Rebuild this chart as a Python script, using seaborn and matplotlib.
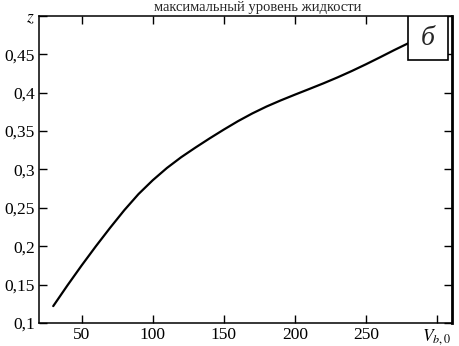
import numpy as np
import pandas as pd
import seaborn as sns
import matplotlib.pyplot as plt
from matplotlib.patches import Rectangle

# curve
v_b0 = [30, 40, 50, 60, 70, 80, 90, 100, 110, 120, 130, 140, 150, 160, 170,
        180, 190, 200, 210, 220, 230, 240, 250, 260, 270, 280, 290, 300]
z_val = [0.122, 0.149, 0.175, 0.200, 0.224, 0.247, 0.268, 0.286, 0.302, 0.316,
         0.3285, 0.3405, 0.352, 0.363, 0.373, 0.382, 0.390, 0.3975, 0.4048, 0.4122,
         0.420, 0.4283, 0.4371, 0.4463, 0.4557, 0.4647, 0.4735, 0.4821]

x_ticks = [50, 100, 150, 200, 250, 300]
x_labels = ['50', '100', '150', '200', '250', '$V_{b,0}$']
y_ticks = [0.1, 0.15, 0.2, 0.25, 0.3, 0.35, 0.4, 0.45, 0.5]
y_labels = ['0,1', '0,15', '0,2', '0,25', '0,3', '0,35', '0,4', '0,45', '$z$']

title = 'максимальный уровень жидкости'
panel = 'б'

df = pd.DataFrame({'v': v_b0, 'z': z_val})

sns.set_style('ticks')
plt.rcParams['font.family'] = ['Liberation Serif', 'DejaVu Serif']
plt.rcParams['mathtext.fontset'] = 'stix'

fig = plt.figure(figsize=(4.6, 3.46), dpi=100)
ax = fig.add_axes([0.0848, 0.0665, 0.8978, 0.8873])

sns.lineplot(df, x='v', y='z', ax=ax, color='black', linewidth=1.6)

ax.set_xlim(20, 310.5)
ax.set_ylim(0.1, 0.5)
ax.set_xticks(x_ticks)
ax.set_xticklabels(x_labels)
ax.set_yticks(y_ticks)
ax.set_yticklabels(y_labels)
ax.set_xlabel('')
ax.set_ylabel('')

ax.tick_params(direction='in', length=6, width=1, top=True, right=True,
               labelsize=12.5, colors='black', pad=3)
for s in ax.spines.values():
    s.set_visible(True)
    s.set_color('black')
    s.set_linewidth(1.1)
ax.spines['right'].set_linewidth(2)

# panel letter box
ax.add_patch(Rectangle((0.893, 0.856), 0.097, 0.144, transform=ax.transAxes,
                       facecolor='white', edgecolor='black', linewidth=1.2, zorder=5))
ax.text(0.942, 0.928, panel, transform=ax.transAxes, ha='center', va='center',
        fontsize=20, style='italic', zorder=6)

fig.text(0.561, 0.979, title, ha='center', va='center', fontsize=10.5)

plt.savefig('out.png', dpi=100)
